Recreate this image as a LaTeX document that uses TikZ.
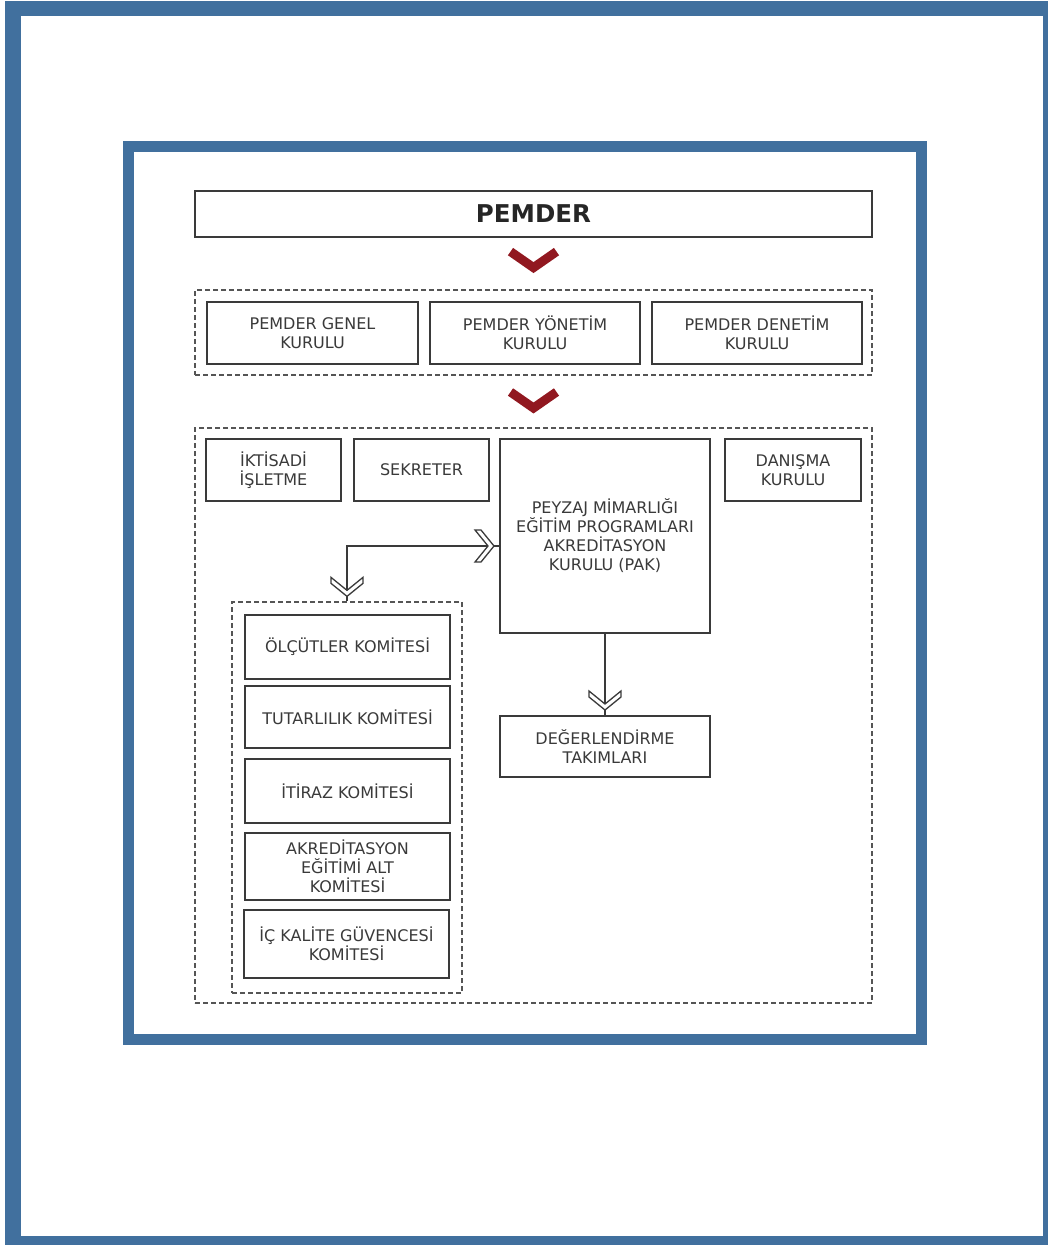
\documentclass[tikz,border=0pt]{standalone}
\usepackage{fontspec}
\setmainfont{DejaVu Sans}
\usetikzlibrary{calc,decorations.markings}

\definecolor{mavi}{RGB}{65,112,158}
\definecolor{cizgi}{RGB}{58,58,58}
\definecolor{kesik}{RGB}{85,85,85}
\definecolor{yazi}{RGB}{58,58,58}
\definecolor{bordo}{RGB}{145,24,32}

% bos ok ucu (cift cizgili V)
\newcommand{\ucok}{\draw[cizgi, line width=1.3pt, fill=white, line join=miter] (-5pt,0pt) -- ++(-13pt,16pt) -- ++(-6pt,0pt) -- ++(13pt,-16pt) -- ++(-13pt,-16pt) -- ++(6pt,0pt) -- cycle;}

\tikzset{
  kutu/.style={draw=cizgi, line width=2pt, fill=white, text=yazi, align=center, inner sep=0pt, font=\fontsize{16}{19}\selectfont},
  grup/.style={draw=kesik, line width=1.3pt, dash pattern=on 5pt off 3pt},
  bag/.style={draw=cizgi, line width=1.6pt},
  ucsonu/.style={postaction={decorate, decoration={markings, mark=at position 1 with {\ucok}}}},
  ucbasi/.style={postaction={decorate, decoration={markings, mark=at position 0 with {\begin{scope}[xscale=-1]\ucok\end{scope}}}}},
}

\begin{document}
\begin{tikzpicture}[x=1pt, y=-1pt]
\fill[white] (0,0) rectangle (1047,1245);
\useasboundingbox (0,0) rectangle (1047,1245);
\draw[mavi, line width=15.5pt] (13,8.5) rectangle (1051,1244);
\draw[mavi, line width=11pt] (128.5,146.5) rectangle (921.5,1039.5);

% ust kademe
\node[kutu, minimum width=677pt, minimum height=46pt, font=\fontsize{24.5}{28}\selectfont\bfseries, text=black!85] (pemder) at (533.5,214) {PEMDER};

\node[grup, minimum width=677pt, minimum height=85pt] (kurullar) at (533.5,332.5) {};
\node[kutu, minimum width=211pt, minimum height=62pt] (genel) at (312.5,333) {PEMDER GENEL\\KURULU};
\node[kutu, minimum width=210pt, minimum height=62pt] (yonetim) at (535,333) {PEMDER YÖNETİM\\KURULU};
\node[kutu, minimum width=210pt, minimum height=62pt] (denetim) at (757,333) {PEMDER DENETİM\\KURULU};

% birimler
\node[grup, minimum width=677pt, minimum height=575pt] (birimler) at (533.5,715.5) {};
\node[kutu, minimum width=135pt, minimum height=62pt] (iktisadi) at (273.5,470) {İKTİSADİ\\İŞLETME};
\node[kutu, minimum width=135pt, minimum height=62pt] (sekreter) at (421.5,470) {SEKRETER};
\node[kutu, minimum width=210pt, minimum height=194pt] (pak) at (605,536) {PEYZAJ MİMARLIĞI\\EĞİTİM PROGRAMLARI\\AKREDİTASYON\\KURULU (PAK)};
\node[kutu, minimum width=136pt, minimum height=62pt] (danisma) at (793,470) {DANIŞMA\\KURULU};
\node[kutu, minimum width=210pt, minimum height=61pt] (degerlendirme) at (605,746.5) {DEĞERLENDİRME\\TAKIMLARI};

% komiteler
\node[grup, minimum width=230pt, minimum height=391pt] (komiteler) at (347,797.5) {};
\node[kutu, minimum width=205pt, minimum height=64pt] (olcutler) at (347.5,647) {ÖLÇÜTLER KOMİTESİ};
\node[kutu, minimum width=205pt, minimum height=62pt] (tutarlilik) at (347.5,717) {TUTARLILIK KOMİTESİ};
\node[kutu, minimum width=205pt, minimum height=64pt] (itiraz) at (347.5,791) {İTİRAZ KOMİTESİ};
\node[kutu, minimum width=205pt, minimum height=67pt] (egitim) at (347.5,866.5) {AKREDİTASYON\\EĞİTİMİ ALT\\KOMİTESİ};
\node[kutu, minimum width=205pt, minimum height=68pt] (ickalite) at (346.5,944) {İÇ KALİTE GÜVENCESİ\\KOMİTESİ};

% kirmizi oklar
\coordinate (ok1) at ($(pemder.south)!0.45!(kurullar.north)$);
\coordinate (ok2) at ($(kurullar.south)!0.5!(birimler.north)$);
\foreach \o in {ok1,ok2}
  \draw[bordo, line width=9pt, line join=miter] ($(\o)+(-23,-9.5)$) -- ++(23,16) -- ++(23,-16);

% baglantilar
\draw[bag, ucbasi, ucsonu] (komiteler.north) |- ([yshift=-10pt]pak.west);
\draw[bag, ucsonu] (pak.south) -- (degerlendirme.north);
\end{tikzpicture}
\end{document}
